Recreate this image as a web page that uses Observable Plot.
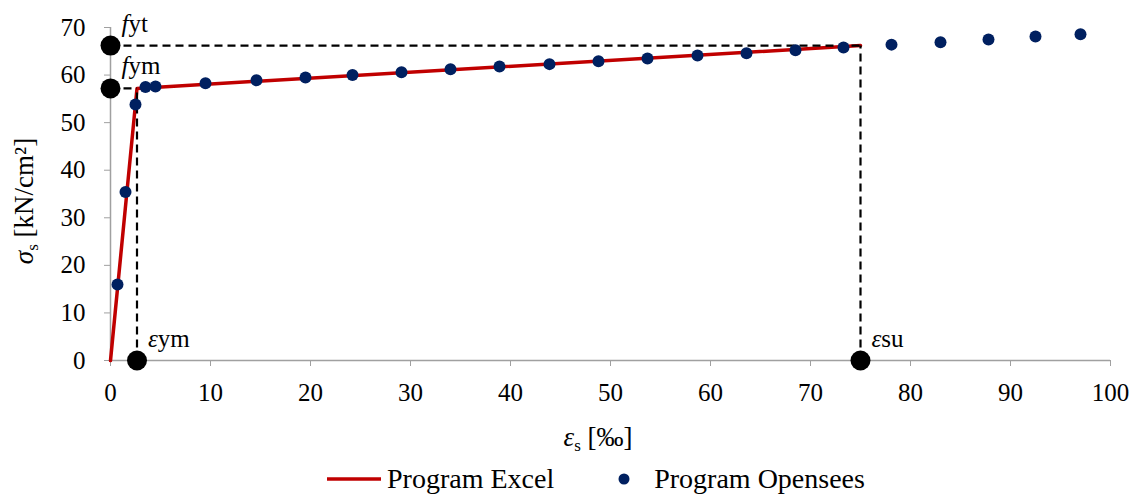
<!DOCTYPE html>
<html>
<head>
<meta charset="utf-8">
<script src="https://cdn.jsdelivr.net/npm/d3@7"></script>
<script src="https://cdn.jsdelivr.net/npm/@observablehq/plot@0.6"></script>
<style>
  html, body { margin: 0; padding: 0; background: #fff; }
  #chart { width: 1131px; height: 455px; overflow: hidden; }
  #chart svg { display: block; }
  #chart svg, #chart svg text { font-family: "Liberation Serif", "Times New Roman", Tinos, serif !important; }
  g[aria-label="x-axis tick"], g[aria-label="y-axis tick"] { stroke: #a0a0a0; }
  .legend { width: 1070px; padding-left: 61px; height: 38px; padding-top: 5px; display: flex; justify-content: center; align-items: center;
            font-family: "Liberation Serif", "Times New Roman", Tinos, serif; font-size: 28px; line-height: 30px; color: #000; }
  .legend .item { display: flex; align-items: center; }
</style>
</head>
<body>
<div id="chart"></div>
<script>
// ---- Data ----
const xTickValues = [0, 10, 20, 30, 40, 50, 60, 70, 80, 90, 100];
const yTickValues = [0, 10, 20, 30, 40, 50, 60, 70];

// Program Excel (bilinear model)
const excelStrain = [0, 2.65, 75];
const excelStress = [0, 57.2, 66.2];

// Program Opensees (points)
const openseesStrain = [0.7, 1.5, 2.5, 3.5, 4.5, 9.5, 14.6, 19.5, 24.2, 29.1, 34.0, 38.9, 43.9, 48.8, 53.7, 58.7, 63.6, 68.5, 73.3, 78.1, 83.0, 87.8, 92.5, 97.0];
const openseesStress = [16.0, 35.4, 53.8, 57.5, 57.6, 58.3, 58.9, 59.5, 60.0, 60.6, 61.2, 61.8, 62.3, 62.9, 63.5, 64.1, 64.6, 65.2, 65.8, 66.4, 66.9, 67.5, 68.1, 68.6];

// Characteristic points
const keyLabels = ["fyt", "fym", "εym", "εsu"];
const keyStrain = [0, 0, 2.65, 75];
const keyStress = [66.2, 57.2, 0, 0];

const seriesNames = ["Program Excel", "Program Opensees"];
const seriesColors = ["#C00000", "#002060"];

// ---- Build tables ----
const excel = excelStrain.map((x, i) => ({x, y: excelStress[i]}));
const opensees = openseesStrain.map((x, i) => ({x, y: openseesStress[i]}));
const keys = keyLabels.map((label, i) => ({label, x: keyStrain[i], y: keyStress[i]}));
const guides = [
  {x1: keyStrain[0], y1: keyStress[0], x2: keyStrain[3], y2: keyStress[0]},
  {x1: keyStrain[3], y1: keyStress[3], x2: keyStrain[3], y2: keyStress[0]},
  {x1: keyStrain[1], y1: keyStress[1], x2: keyStrain[2], y2: keyStress[1]},
  {x1: keyStrain[2], y1: keyStress[2], x2: keyStrain[2], y2: keyStress[1]}
];

const W = 1131, H = 455;
const plot = Plot.plot({
  width: W,
  height: H,
  marginLeft: 110,
  marginRight: 21,
  marginTop: 27,
  marginBottom: 95,
  style: {fontFamily: "'Liberation Serif', 'Times New Roman', serif", fontSize: "25px", color: "#000", background: "#fff"},
  x: {domain: [0, 100]},
  y: {domain: [0, 70]},
  marks: [
    Plot.axisX({ticks: xTickValues, tickSize: 6, tickPadding: 17, label: null}),
    Plot.axisY({ticks: yTickValues, tickSize: 6, tickPadding: 19, label: null}),
    Plot.ruleY([0], {stroke: "#a0a0a0", strokeWidth: 1.5}),
    Plot.ruleX([0], {stroke: "#a0a0a0", strokeWidth: 1.5}),
    Plot.line(excel, {x: "x", y: "y", stroke: seriesColors[0], strokeWidth: 3.5}),
    Plot.link(guides, {x1: "x1", y1: "y1", x2: "x2", y2: "y2", stroke: "#000", strokeWidth: 2.2, strokeDasharray: "8,5"}),
    Plot.dot(opensees, {x: "x", y: "y", r: 6, fill: seriesColors[1], stroke: "none"}),
    Plot.dot(keys, {x: "x", y: "y", r: 10, fill: "#000", stroke: "none"}),
    Plot.text(keys, {x: "x", y: "y", text: "label", textAnchor: "start", dx: 11, dy: -22, fontSize: 25})
  ]
});
document.getElementById("chart").appendChild(plot);

// Italicise the first character of the characteristic point labels
d3.select(plot).selectAll('g[aria-label="text"] text').each(function() {
  const t = d3.select(this);
  const s = t.text();
  t.text(null);
  t.append("tspan").attr("font-style", "italic").text(s[0]);
  t.append("tspan").text(s.slice(1));
});

// Axis titles with subscripts
const svg = d3.select(plot);
const xt = svg.append("text")
  .attr("x", 598).attr("y", 446)
  .attr("text-anchor", "middle")
  .attr("font-size", 27).attr("fill", "#000");
xt.append("tspan").attr("font-style", "italic").text("ε");
xt.append("tspan").attr("font-size", 17).attr("dy", 5).text("s");
xt.append("tspan").attr("dy", -5).text(" [‰]");

const yt = svg.append("text")
  .attr("transform", "translate(33,201) rotate(-90)")
  .attr("text-anchor", "middle")
  .attr("font-size", 27).attr("fill", "#000");
yt.append("tspan").attr("font-style", "italic").text("σ");
yt.append("tspan").attr("font-size", 17).attr("dy", 5).text("s");
yt.append("tspan").attr("dy", -5).text(" [kN/cm²]");

// Legend below the chart
const legend = d3.select("body").append("div").attr("class", "legend");
const it1 = legend.append("div").attr("class", "item");
it1.append("svg").attr("width", 54).attr("height", 10).style("margin-right", "6px")
  .append("line").attr("x1", 0).attr("x2", 54).attr("y1", 5).attr("y2", 5)
  .attr("stroke", seriesColors[0]).attr("stroke-width", 3.5);
it1.append("span").text(seriesNames[0]);
const it2 = legend.append("div").attr("class", "item").style("margin-left", "64px");
it2.append("svg").attr("width", 12).attr("height", 12).style("margin-right", "24px")
  .append("circle").attr("cx", 6).attr("cy", 6).attr("r", 5.5).attr("fill", seriesColors[1]);
it2.append("span").text(seriesNames[1]);
</script>
</body>
</html>
